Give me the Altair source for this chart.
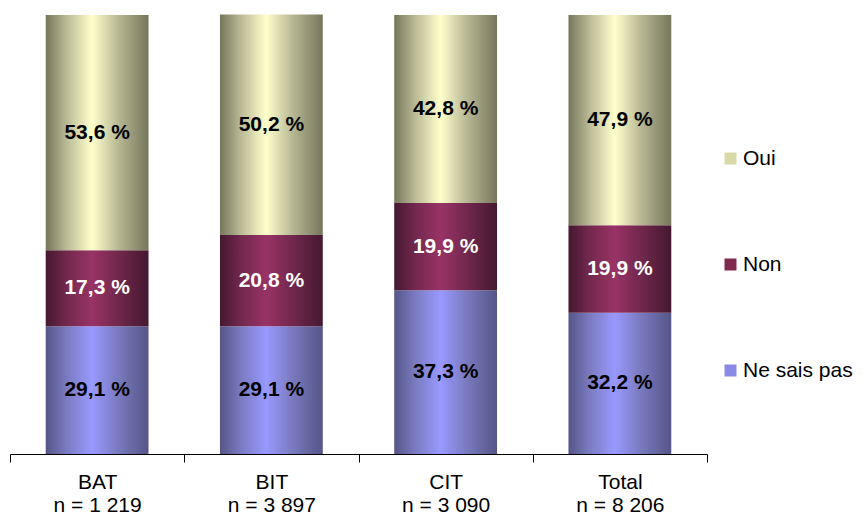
import altair as alt
import pandas as pd

categories = ["BAT", "BIT", "CIT", "Total"]
counts = ["n = 1 219", "n = 3 897", "n = 3 090", "n = 8 206"]
series = ["Ne sais pas", "Non", "Oui"]
ne_sais_pas = [29.1, 29.1, 37.3, 32.2]
non = [17.3, 20.8, 19.9, 19.9]
oui = [53.6, 50.2, 42.8, 47.9]
label_texts = {
    "Ne sais pas": ["29,1 %", "29,1 %", "37,3 %", "32,2 %"],
    "Non": ["17,3 %", "20,8 %", "19,9 %", "19,9 %"],
    "Oui": ["53,6 %", "50,2 %", "42,8 %", "47,9 %"],
}

values = {"Ne sais pas": ne_sais_pas, "Non": non, "Oui": oui}
rows = []
for s_i, s in enumerate(series):
    for c_i, c in enumerate(categories):
        rows.append({
            "cat": c + "|" + counts[c_i],
            "series": s,
            "order": s_i,
            "value": values[s][c_i],
            "txt": label_texts[s][c_i],
        })
df = pd.DataFrame(rows)
cat_order = [c + "|" + n for c, n in zip(categories, counts)]


def grad(edge, mid, center):
    return alt.Gradient(
        gradient="linear", x1=0, x2=1, y1=0, y2=0,
        stops=[
            alt.GradientStop(offset=0, color=edge),
            alt.GradientStop(offset=0.2, color=mid),
            alt.GradientStop(offset=0.45, color=center),
            alt.GradientStop(offset=0.7, color=mid),
            alt.GradientStop(offset=1, color=edge),
        ],
    )


gradients = {
    "Oui": grad("#76765c", "#b9b995", "#ffffcc"),
    "Non": grad("#451830", "#72284d", "#993366"),
    "Ne sais pas": grad("#555588", "#7a7ac0", "#9999ff"),
}
solid = {"Oui": "#d8d8a8", "Non": "#82294f", "Ne sais pas": "#8a8ae6"}

x_enc = alt.X(
    "cat:N", sort=cat_order, title=None,
    scale=alt.Scale(paddingInner=0, paddingOuter=0),
    axis=alt.Axis(
        labelExpr="datum.value ? split(datum.value, '|') : ''",
        labelAngle=0, labelFontSize=21,
        labelLineHeight=23, labelPadding=9, labelColor="black",
        domainColor="black", tickColor="black", tickSize=8, tickBand="extent",
        grid=False,
    ),
)
y_scale = alt.Scale(domain=[0, 100], nice=False, zero=True)

base = alt.Chart(df).transform_stack(
    stack="value", groupby=["cat"], as_=["y0", "y1"],
    sort=[alt.SortField("order", order="ascending")],
).transform_calculate(mid="(datum.y0 + datum.y1) / 2")

layers = []
for s in series:
    layers.append(
        base.transform_filter(alt.datum.series == s)
        .mark_bar(fill=gradients[s], width=alt.RelativeBandSize(0.59))
        .encode(
            x=x_enc,
            y=alt.Y("y0:Q", scale=y_scale, axis=None),
            y2="y1:Q",
        )
    )

legend_layer = base.mark_square(opacity=0, size=1).encode(
    x=x_enc,
    y=alt.Y("mid:Q", scale=y_scale, axis=None),
    color=alt.Color(
        "series:N",
        scale=alt.Scale(domain=["Oui", "Non", "Ne sais pas"],
                        range=[solid["Oui"], solid["Non"], solid["Ne sais pas"]]),
        legend=alt.Legend(
            title=None, orient="none", legendX=710, legendY=133,
            symbolType="square", symbolSize=144, symbolOpacity=1,
            symbolStrokeWidth=0, labelFontSize=21, labelColor="black",
            rowPadding=84, labelOffset=2, padding=0,
        ),
    ),
)

text_layer = base.mark_text(fontSize=21, fontWeight="bold").encode(
    x=x_enc,
    y=alt.Y("mid:Q", scale=y_scale, axis=None),
    text="txt:N",
    color=alt.condition(alt.datum.series == "Non", alt.value("white"), alt.value("black")),
)

chart = alt.layer(*layers, legend_layer, text_layer).properties(
    width=697, height=439,
    autosize=alt.AutoSizeParams(type="none"),
    padding={"left": 2, "top": 7, "right": 152, "bottom": 65},
).configure(font="Liberation Sans").configure_view(stroke=None)

chart.save("out.html", embed_options={"renderer": "svg", "actions": False})
